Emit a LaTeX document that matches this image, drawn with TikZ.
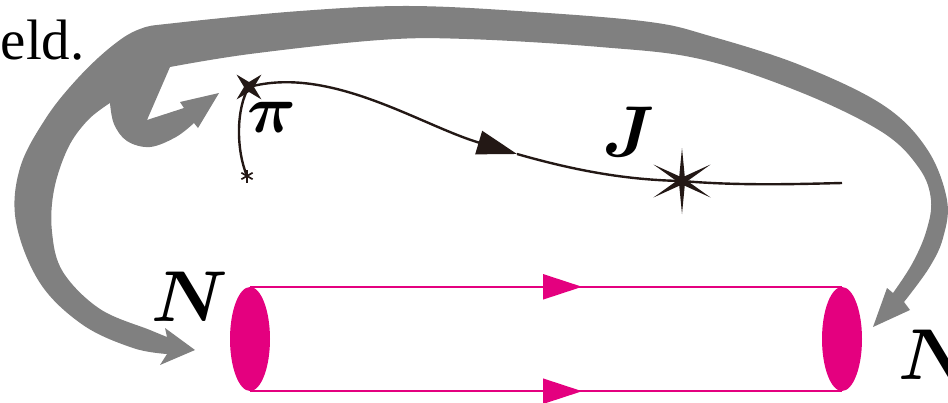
\RequirePackage{fix-cm}
\documentclass[tikz,border=0pt]{standalone}
\usepackage{fontspec}
\usepackage{amsmath}
\newfontfamily\timesfont{Liberation Serif}
\usetikzlibrary{arrows.meta,shapes.geometric,decorations.markings}
\definecolor{arrgray}{RGB}{128,128,128}
\definecolor{inkblack}{RGB}{35,24,21}
\definecolor{tubepink}{RGB}{228,0,127}
\tikzset{
  inkline/.style={draw=inkblack, line width=2.4pt},
  tubeline/.style={draw=tubepink, line width=2pt},
  tubecap/.style={ellipse, fill=tubepink, minimum width=40pt, minimum height=104pt, inner sep=0pt},
  midarrow/.style={postaction={decorate}, decoration={markings, mark=at position #1 with {\arrow{Triangle[length=39pt,width=25pt]}}}},
  mathlab/.style={font=\fontsize{72}{72}\selectfont, inner sep=0pt},
}
\begin{document}
\begin{tikzpicture}[x=1pt,y=-1pt]
\useasboundingbox (0,0) rectangle (948,402);
\clip (0,0) rectangle (948,402);

% text
\node[font=\timesfont\fontsize{57}{57}\selectfont, anchor=base west, inner sep=0pt] (fieldtxt) at (0.5,59) {eld.};

% gray arrows
\fill[arrgray]
 plot[smooth, tension=0.6] coordinates {(167,354) (133,348) (83,325) (40,283) (16,222) (20,168) (46,118) (78,78) (112,46) (140,29) (175,23) (300,11) (410,6) (533,12) (650,22) (710,36) (800,65) (883,105) (927,149) (947,200) (943,238) (929,268) (904,302)}
 -- (910,310) -- (873,327) -- (887,288) --
 plot[smooth, tension=0.6] coordinates {(893,293) (912,264) (926,232) (931,200) (919,168) (882,132) (800,92) (700,59) (600,47) (467,39) (380,40) (250,54) (170,67)}
 -- (147,120) -- (184,108) -- (180,102) -- (219,93) -- (198,128) --
 plot[smooth, tension=0.6] coordinates {(194,123) (176,137) (150,147) (127,141) (114,124) (110,103)}
 -- plot[smooth, tension=0.6] coordinates {(110,103) (88,120) (68,148) (54,190) (52,232) (63,272) (100,309) (150,330) (167,337)}
 -- (165,328) -- (195,350) -- (160,365) -- cycle;

% pink tube
\node[tubecap] (L) at (250,339) {};
\node[tubecap] (R) at (842,339) {};
\draw[tubeline, midarrow=0.561, tubepink] (L.north) -- (R.north);
\draw[tubeline, midarrow=0.561, tubepink] (L.south) -- (R.south);

% black lines
\node[star, star points=4, star point ratio=3.5, minimum size=35pt, inner sep=0pt, fill=inkblack, shape border rotate=45] (pi) at (249,87) {};
\node[star, star points=6, star point ratio=6, minimum size=66pt, inner sep=0pt, fill=inkblack] (star) at (682,181) {};
\coordinate (m) at (517,154);
\coordinate (Jend) at (842,183);
\coordinate (ast) at (247,176);
\draw[inkline, -{Triangle[length=40pt,width=24pt]}, inkblack] (pi.center) .. controls (330,65) and (420,125) .. (m);
\draw[inkline] (m) .. controls (580,172) and (630,180) .. (star.center) .. controls (740,186) and (800,184) .. (Jend);
\draw[inkline] (pi.center) .. controls (236,108) and (236,150) .. (ast);
\foreach \a in {90,150,...,450} \draw[inkblack, line width=1.7pt] (ast) -- ++(\a:6.5);

% labels
\node[mathlab, font=\fontsize{68}{68}\selectfont] (pilab) at (272,117) {$\boldsymbol{\pi}$};
\node[mathlab] (Jlab) at (629,132) {$\boldsymbol{J}$};
\node[mathlab] (Nleft) at (190,297) {$\boldsymbol{N}$};
\node[mathlab, anchor=west] (Nright) at (898,355) {$\boldsymbol{N}$};
\end{tikzpicture}
\end{document}
